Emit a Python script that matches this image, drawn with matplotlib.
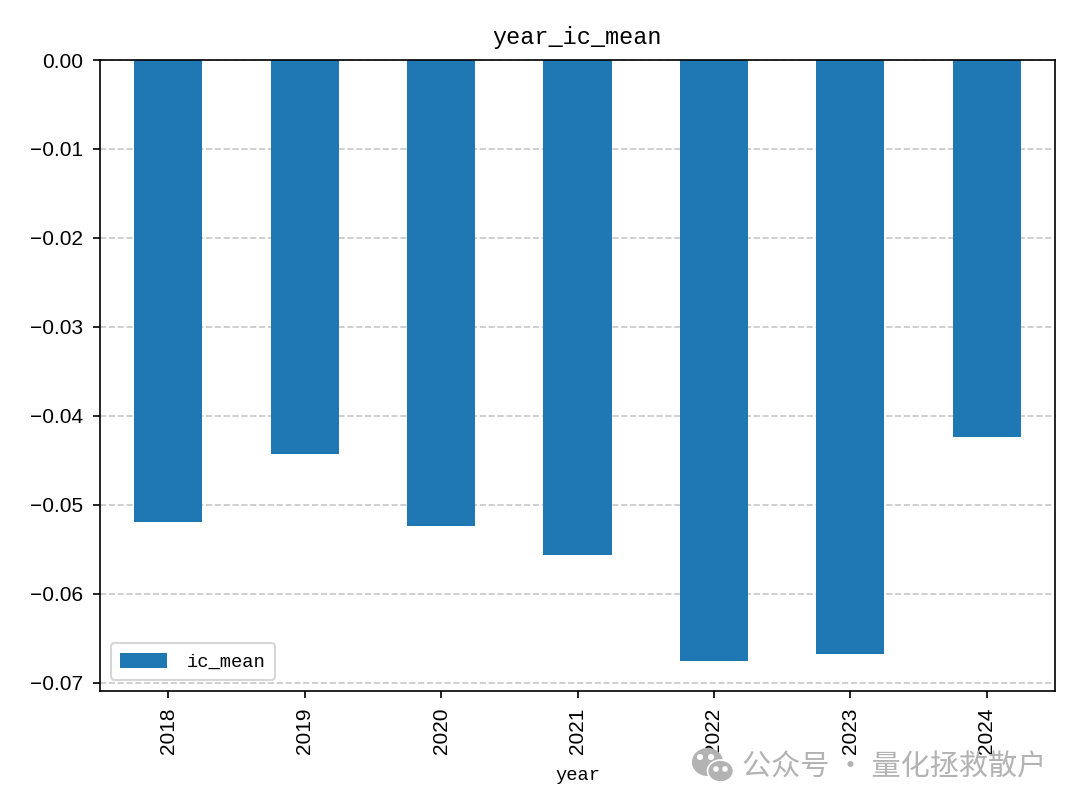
import matplotlib
matplotlib.use("Agg")
import matplotlib.pyplot as plt
from matplotlib.patches import Ellipse

years = ["2018", "2019", "2020", "2021", "2022", "2023", "2024"]
ic_mean = [-0.0519, -0.0443, -0.0524, -0.0556, -0.0675, -0.0667, -0.0424]
y_ticks = [0.00, -0.01, -0.02, -0.03, -0.04, -0.05, -0.06, -0.07]
y_labels = ["0.00", "\u22120.01", "\u22120.02", "\u22120.03", "\u22120.04", "\u22120.05", "\u22120.06", "\u22120.07"]

plt.rcParams["font.family"] = ["Liberation Mono", "DejaVu Sans Mono"]
plt.rcParams["font.size"] = 10

fig = plt.figure(figsize=(7.2, 5.4), dpi=150)
ax = fig.add_axes([100 / 1080, 1 - 691 / 810, 955 / 1080, 631 / 810])

x = list(range(len(years)))
ax.bar(x, ic_mean, width=0.5, color="#1f77b4", label="ic_mean")
ax.set_xlim(-0.5, len(years) - 0.5)
ax.set_ylim(-0.0709, 0)
ax.set_xticks(x)
ax.set_xticklabels(years, rotation=90)
ax.set_yticks(y_ticks)
ax.set_yticklabels(y_labels)
ax.tick_params(labelfontfamily="Liberation Sans")
ax.tick_params(axis="x", pad=4.5)
ax.tick_params(axis="y", pad=4.5)
ax.grid(axis="y", linestyle="--", color="#b0b0b0", alpha=0.7)
ax.set_axisbelow(True)
ax.set_title("year_ic_mean", fontsize=11.3, pad=7.5)
ax.set_xlabel("year", fontsize=9, labelpad=6)
ax.legend(loc="lower left", prop={"size": 9}, handlelength=2.5, handleheight=0.9,
          handletextpad=1.05, borderpad=0.5, borderaxespad=0.58)

# watermark
grey = "#b3b3b3"
fig.add_artist(Ellipse((707.5 / 1080, 1 - 762 / 810), 29 / 1080, 26 / 810, color=grey))
for ex in [700, 711]:
    fig.add_artist(Ellipse((ex / 1080, 1 - 757 / 810), 4 / 1080, 4 / 810, color="white"))
fig.add_artist(Ellipse((720.5 / 1080, 1 - 771 / 810), 26 / 1080, 22 / 810, fc=grey, ec="white", lw=0.8))
for ex in [716, 725]:
    fig.add_artist(Ellipse((ex / 1080, 1 - 769 / 810), 3.5 / 1080, 3.5 / 810, color="white"))
fig.text(742 / 1080, 1 - 767 / 810, "公众号 · 量化拯救散户", color=grey, fontsize=14,
         va="center", ha="left", family=["Noto Sans CJK SC", "DejaVu Sans"])

fig.savefig("out.png", dpi=150)
